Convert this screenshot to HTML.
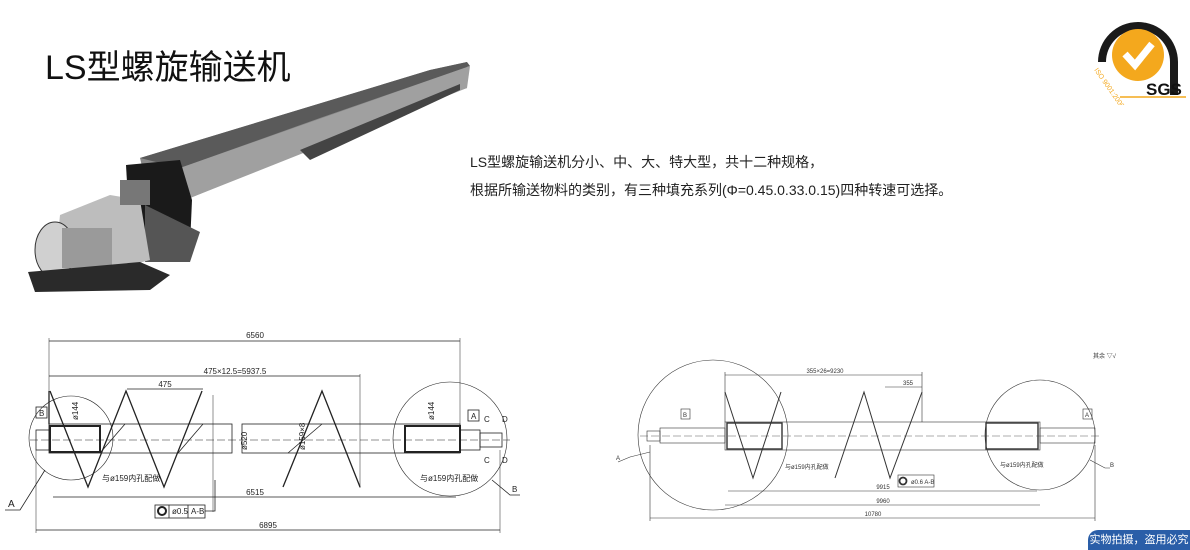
<!DOCTYPE html>
<html><head><meta charset="utf-8"><style>
html,body{margin:0;padding:0;background:#fff;}
body{width:1190px;height:550px;overflow:hidden;position:relative;font-family:"Liberation Sans","Noto Sans CJK SC",sans-serif;}
.t{position:absolute;white-space:nowrap;}
</style></head><body>
<svg width="1190" height="550" style="position:absolute;left:0;top:0" xmlns="http://www.w3.org/2000/svg">
<g>
<polygon points="140,158 430,70 467,62 467,88 430,100 190,198 150,200" fill="#8a8a8a"/>
<polygon points="140,158 430,70 467,62 470,66 320,118 180,168" fill="#5a5a5a"/>
<polygon points="180,168 470,66 467,88 190,198" fill="#a0a0a0"/>
<polygon points="300,150 460,84 460,90 310,160" fill="#444"/>
<polygon points="126,165 180,160 192,200 190,245 160,245 130,235" fill="#1a1a1a"/>
<polygon points="145,205 200,232 190,262 145,262" fill="#555"/>
<polygon points="60,215 110,195 140,200 150,260 95,275 55,265" fill="#bdbdbd"/>
<ellipse cx="55" cy="250" rx="20" ry="28" fill="#d0d0d0" stroke="#333"/>
<rect x="62" y="228" width="50" height="40" fill="#9a9a9a"/>
<polygon points="28,272 140,262 170,275 150,290 35,292" fill="#2a2a2a"/>
<rect x="120" y="180" width="30" height="25" fill="#777"/>
</g>
<g stroke="#222" fill="none" stroke-width="0.8">
<line x1="49" y1="341" x2="460" y2="341"/>
<line x1="49" y1="338" x2="49" y2="430" stroke-width="0.5"/>
<line x1="460" y1="338" x2="460" y2="430" stroke-width="0.5"/>
<line x1="49" y1="376" x2="360" y2="376"/>
<line x1="360" y1="374" x2="360" y2="488" stroke-width="0.5"/>
<line x1="127" y1="389" x2="203" y2="389"/>
<rect x="49" y="424" width="183" height="29"/>
<rect x="242" y="424" width="218" height="29"/>
<rect x="36" y="430" width="13" height="20"/>
<rect x="460" y="430" width="20" height="20"/>
<rect x="480" y="433" width="22" height="14"/>
<rect x="50" y="426" width="50" height="26" stroke-width="2"/>
<rect x="405" y="426" width="55" height="26" stroke-width="2"/>
<line x1="30" y1="440" x2="510" y2="440" stroke-dasharray="8,3" stroke-width="0.5"/>
<polyline points="50,391 88,487 126,391 164,487 202,391" stroke-width="1.3"/>
<polyline points="283,487 322,391 360,487" stroke-width="1.3"/>
<line x1="49" y1="391" x2="49" y2="424" stroke-width="1.3"/>
<line x1="100" y1="453" x2="125" y2="424"/><line x1="178" y1="453" x2="203" y2="424"/>
<line x1="288" y1="453" x2="322" y2="424"/>
<circle cx="71" cy="438" r="42" stroke-width="0.6"/>
<circle cx="450" cy="439" r="57" stroke-width="0.6"/>
<line x1="53" y1="497" x2="456" y2="497"/>
<line x1="36" y1="530" x2="500" y2="530"/>
<line x1="36" y1="450" x2="36" y2="533" stroke-width="0.5"/>
<line x1="500" y1="450" x2="500" y2="533" stroke-width="0.5"/>
<line x1="213" y1="395" x2="213" y2="512" stroke-width="0.5"/>
<polyline points="205,511 215,511 215,480"/>
<rect x="155" y="505" width="50" height="13"/>
<line x1="169" y1="505" x2="169" y2="518"/><line x1="188" y1="505" x2="188" y2="518"/>
<circle cx="162" cy="511" r="4" stroke-width="2"/>
<polyline points="5,510 20,510 45,470"/>
<polyline points="492,480 510,495 520,495"/>
<rect x="36" y="407" width="11" height="11"/><rect x="468" y="410" width="11" height="11"/>
</g>
<g font-family="Liberation Sans,Noto Sans CJK SC,sans-serif" font-size="8" fill="#222">
<text x="255" y="338" text-anchor="middle">6560</text>
<text x="235" y="374" text-anchor="middle">475×12.5=5937.5</text>
<text x="165" y="387" text-anchor="middle">475</text>
<text x="255" y="495" text-anchor="middle">6515</text>
<text x="268" y="528" text-anchor="middle">6895</text>
<text x="172" y="514">ø0.5</text><text x="191" y="514">A-B</text>
<text x="102" y="481">与ø159内孔配做</text>
<text x="420" y="481">与ø159内孔配做</text>
<text x="39" y="416">B</text><text x="471" y="419">A</text>
<text x="484" y="422">C</text><text x="502" y="422">D</text>
<text x="484" y="463">C</text><text x="502" y="463">D</text>
<text x="8" y="507" font-size="10">A</text><text x="512" y="492">B</text>
<text transform="translate(78,420) rotate(-90)">ø144</text>
<text transform="translate(434,420) rotate(-90)">ø144</text>
<text transform="translate(247,450) rotate(-90)">ø520</text>
<text transform="translate(305,450) rotate(-90)">ø159×8</text>
</g>
<g stroke="#333" fill="none" stroke-width="0.6">
<rect x="725" y="422" width="315" height="28"/>
<rect x="660" y="428" width="65" height="15"/>
<rect x="647" y="431" width="13" height="10"/>
<rect x="1040" y="428" width="55" height="15"/>
<rect x="727" y="423" width="55" height="26" stroke-width="1.4"/>
<rect x="986" y="423" width="52" height="26" stroke-width="1.4"/>
<line x1="640" y1="436" x2="1100" y2="436" stroke-dasharray="8,3" stroke-width="0.4"/>
<polyline points="725,392 753,478 781,392" stroke-width="1"/>
<polyline points="835,478 864,392 890,478 922,392" stroke-width="1"/>
<line x1="725" y1="375" x2="922" y2="375"/>
<line x1="725" y1="372" x2="725" y2="422"/><line x1="922" y1="372" x2="922" y2="422"/>
<line x1="885" y1="387" x2="922" y2="387"/>
<circle cx="713" cy="435" r="75"/>
<circle cx="1040" cy="435" r="55"/>
<line x1="728" y1="491" x2="1037" y2="491"/>
<line x1="725" y1="505" x2="1040" y2="505"/>
<line x1="650" y1="518" x2="1095" y2="518"/>
<line x1="650" y1="445" x2="650" y2="521"/><line x1="1095" y1="445" x2="1095" y2="521"/>
<rect x="898" y="475" width="36" height="12"/>
<circle cx="903" cy="481" r="3.5" stroke-width="1.8"/>
<polyline points="618,462 630,457 650,452"/>
<polyline points="1090,460 1105,468 1110,468"/>
<rect x="681" y="409" width="9" height="10"/><rect x="1083" y="409" width="9" height="10"/>
</g>
<g font-family="Liberation Sans,Noto Sans CJK SC,sans-serif" font-size="6" fill="#333">
<text x="825" y="373" text-anchor="middle">355×26=9230</text>
<text x="903" y="385">355</text>
<text x="883" y="489" text-anchor="middle">9915</text>
<text x="883" y="503" text-anchor="middle">9960</text>
<text x="873" y="516" text-anchor="middle">10780</text>
<text x="911" y="484">ø0.6 A-B</text>
<text x="785" y="469">与ø159内孔配做</text>
<text x="1000" y="467">与ø159内孔配做</text>
<text x="683" y="417">B</text><text x="1085" y="417">A</text>
<text x="616" y="460">A</text><text x="1110" y="467">B</text>
<text x="1093" y="358">其余 ▽√</text>
</g>
</svg>
<div class="t" style="left:45px;top:40px;font-size:34px;color:#111;">LS型螺旋输送机</div>
<div class="t" style="left:470px;top:152px;font-size:14px;color:#222;">LS型螺旋输送机分小、中、大、特大型，共十二种规格，</div>
<div class="t" style="left:470px;top:180px;font-size:14px;color:#222;">根据所输送物料的类别，有三种填充系列(Φ=0.45.0.33.0.15)四种转速可选择。</div>
<svg width="110" height="105" style="position:absolute;left:1080px;top:0">
<path d="M18,62 A38,38 0 0 1 98,62 L98,95 L90,95 L90,62 A30,30 0 0 0 26,62 Z" fill="#1a1a1a"/>
<circle cx="58" cy="55" r="26" fill="#f4a81d"/>
<polyline points="45,54 55,65 72,44" stroke="#fff" stroke-width="7" fill="none"/>
<text x="14" y="70" font-size="7" fill="#f4a81d" transform="rotate(55 14 70)">ISO 9001:2000</text>
<text x="66" y="95" font-size="17" font-weight="bold" fill="#111">SGS</text>
<line x1="40" y1="97" x2="106" y2="97" stroke="#f4a81d" stroke-width="1.5"/>
</svg>
<div class="t" style="left:1088px;top:530px;width:102px;height:20px;background:#2a5ea8;border-top-left-radius:10px;color:#fff;font-size:11px;line-height:20px;text-align:center;">实物拍摄，盗用必究</div>
</body></html>
